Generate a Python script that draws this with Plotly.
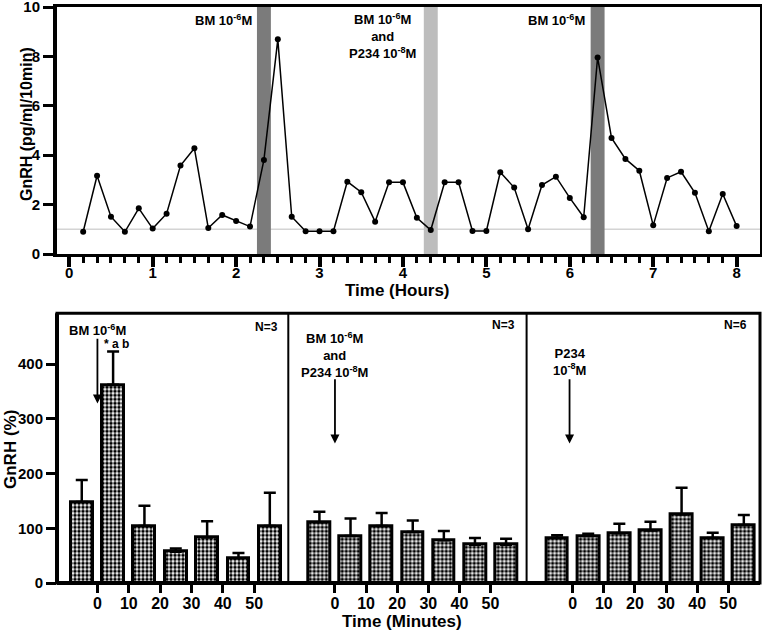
import plotly.graph_objects as go

# ---------------- data ----------------
# Top panel: GnRH secretion every 10 minutes
sample_minutes = [10, 20, 30, 40, 50, 60, 70, 80, 90, 100, 110, 120,
                  130, 140, 150, 160, 170, 180, 190, 200, 210, 220, 230, 240,
                  250, 260, 270, 280, 290, 300, 310, 320, 330, 340, 350, 360,
                  370, 380, 390, 400, 410, 420, 430, 440, 450, 460, 470, 480]
gnrh_values = [0.90, 3.17, 1.51, 0.90, 1.85, 1.03, 1.63, 3.58, 4.28, 1.05, 1.58, 1.34,
               1.11, 3.81, 8.69, 1.51, 0.92, 0.92, 0.92, 2.93, 2.50, 1.31, 2.90, 2.90,
               1.47, 0.97, 2.90, 2.90, 0.93, 0.93, 3.31, 2.69, 1.00, 2.79, 3.13, 2.27,
               1.49, 7.96, 4.70, 3.85, 3.37, 1.16, 3.08, 3.33, 2.48, 0.92, 2.43, 1.13]
hours = [m / 60 for m in sample_minutes]
hour_ticks = [0, 1, 2, 3, 4, 5, 6, 7, 8]
baseline_value = 1.0
# treatment windows (hours)
bm_windows = [(2.25, 2.417), (6.25, 6.417)]
combo_window = (4.25, 4.417)

# Bottom panels: GnRH (%) per 10-min fraction
bar_minutes = [-5, 5, 15, 25, 35, 45, 55]
bm_mean = [148, 362, 104, 57, 83, 45, 104]
bm_err_top = [188, 423, 141, 63, 113, 55, 165]
combo_mean = [111, 86, 104, 93, 78, 70, 70]
combo_err_top = [130, 118, 128, 114, 95, 82, 81]
p234_mean = [82, 86, 91, 96, 125, 82, 106]
p234_err_top = [87, 90, 108, 112, 174, 92, 124]
minute_ticks = [0, 10, 20, 30, 40, 50]
pct_ticks = [0, 100, 200, 300, 400]

# ---------------- layout helpers ----------------
W, H = 762, 630
ML, MR, MT, MB = 57, 2, 7, 47
PW, PH = W - ML - MR, H - MT - MB


def px(x):
    return (x - ML) / PW


def py(y):
    return (H - MB - y) / PH


FONT = "Liberation Sans, Arial, sans-serif"

fig = go.Figure()

fig.add_trace(go.Scatter(
    x=hours, y=gnrh_values, mode="lines+markers",
    line=dict(color="black", width=1.5),
    marker=dict(color="black", size=6),
    xaxis="x", yaxis="y", showlegend=False))

bar_style = dict(
    marker=dict(color="white", line=dict(color="black", width=3),
                pattern=dict(shape=".", fgcolor="black", bgcolor="white",
                             size=4, solidity=0.6)),
    width=7, showlegend=False)


def err(mean, top):
    return dict(type="data", symmetric=False,
                array=[t - m for m, t in zip(mean, top)],
                arrayminus=[0] * len(mean),
                color="black", thickness=2.5, width=6)


fig.add_trace(go.Bar(x=bar_minutes, y=bm_mean, error_y=err(bm_mean, bm_err_top),
                     xaxis="x2", yaxis="y2", **bar_style))
fig.add_trace(go.Bar(x=bar_minutes, y=combo_mean, error_y=err(combo_mean, combo_err_top),
                     xaxis="x3", yaxis="y3", **bar_style))
fig.add_trace(go.Bar(x=bar_minutes, y=p234_mean, error_y=err(p234_mean, p234_err_top),
                     xaxis="x4", yaxis="y4", **bar_style))

top_y0 = py(254)
bot_y1 = py(313.3)
d1, d2 = px(288.3), px(526.6)

tickfont = dict(family=FONT, color="black", size=15, weight="bold")
btickfont = dict(family=FONT, color="black", size=16, weight="bold")

common = dict(automargin=False, showgrid=False, zeroline=False, ticklabeloverflow="allow")

fig.update_layout(
    template="none",
    width=W, height=H,
    margin=dict(l=ML, r=MR, t=MT, b=MB, pad=0),
    paper_bgcolor="white", plot_bgcolor="white",
    font=dict(family=FONT, color="black"),
    showlegend=False, bargap=0,
    xaxis=dict(domain=[0, 1], anchor="y", range=[-0.147, 8.28],
               tickvals=hour_ticks, ticks="outside", ticklen=10, tickwidth=4,
               tickcolor="black", tickfont=tickfont, ticklabelstandoff=-7,
               showline=True, linewidth=3, linecolor="black", mirror=True,
               minor=dict(tickvals=[0] + hours, ticks="outside", ticklen=6,
                          tickwidth=3, tickcolor="black", showgrid=False), **common),
    yaxis=dict(domain=[top_y0, 1], anchor="x", range=[0, 10],
               tickvals=[0, 2, 4, 6, 8, 10], ticks="outside", ticklen=10, tickwidth=3,
               tickcolor="black", tickfont=tickfont,
               showline=True, linewidth=4, linecolor="black", mirror=True, **common),
    xaxis2=dict(domain=[0, d1], anchor="y2", range=[-12.9, 60.9],
                tickvals=minute_ticks, ticks="outside", ticklen=9, tickwidth=3,
                tickcolor="black", tickfont=btickfont, ticklabelstandoff=-3,
                showline=False, **common),
    xaxis3=dict(domain=[d1, d2], anchor="y3", range=[-15, 61.6],
                tickvals=minute_ticks, ticks="outside", ticklen=9, tickwidth=3,
                tickcolor="black", tickfont=btickfont, ticklabelstandoff=-3,
                showline=False, **common),
    xaxis4=dict(domain=[d2, 1], anchor="y4", range=[-14.8, 60.2],
                tickvals=minute_ticks, ticks="outside", ticklen=9, tickwidth=3,
                tickcolor="black", tickfont=btickfont, ticklabelstandoff=-3,
                showline=False, **common),
    yaxis2=dict(domain=[0, bot_y1], anchor="x2", range=[0, 492.6],
                tickvals=pct_ticks, ticks="outside", ticklen=10, tickwidth=3,
                tickcolor="black", tickfont=tickfont, showline=False, **common),
    yaxis3=dict(domain=[0, bot_y1], anchor="x3", range=[0, 492.6], visible=False, **common),
    yaxis4=dict(domain=[0, bot_y1], anchor="x4", range=[0, 492.6], visible=False, **common),
)

shapes = []
for (a, b) in bm_windows:
    shapes.append(dict(type="rect", xref="x", yref="y", x0=a, x1=b, y0=0, y1=10,
                       fillcolor="#7b7b7b", line=dict(width=0), layer="below"))
shapes.append(dict(type="rect", xref="x", yref="y", x0=combo_window[0], x1=combo_window[1],
                   y0=0, y1=10, fillcolor="#bdbdbd", line=dict(width=0), layer="below"))
shapes.append(dict(type="line", xref="paper", yref="y", x0=0, x1=1,
                   y0=baseline_value, y1=baseline_value,
                   line=dict(color="#d4d4d4", width=1.5), layer="below"))
shapes.append(dict(type="rect", xref="paper", yref="paper", x0=0, x1=1, y0=0, y1=bot_y1,
                   line=dict(color="black", width=3)))
shapes.append(dict(type="line", xref="paper", yref="paper", x0=0, x1=0, y0=0, y1=bot_y1,
                   line=dict(color="black", width=4)))
shapes.append(dict(type="line", xref="paper", yref="paper", x0=0, x1=1, y0=0, y1=0,
                   line=dict(color="black", width=4)))
for d in (d1, d2):
    shapes.append(dict(type="line", xref="paper", yref="paper", x0=d, x1=d, y0=0, y1=bot_y1,
                       line=dict(color="black", width=2)))
fig.update_layout(shapes=shapes)

ann_font = dict(family=FONT, color="black", size=13, weight="bold")
small_font = dict(family=FONT, color="black", size=12, weight="bold")
title_font = dict(family=FONT, color="black", size=17, weight="bold")


def ann(**kw):
    base = dict(showarrow=False, xanchor="center", yanchor="middle")
    base.update(kw)
    return base


anns = [
    ann(xref="paper", yref="paper", x=px(26), y=py(124), text="GnRH (pg/ml/10min)",
        textangle=-90, font=dict(family=FONT, color="black", size=16, weight="bold")),
    ann(xref="paper", yref="paper", x=px(397), y=py(290), text="Time (Hours)", font=title_font),
    ann(xref="paper", yref="paper", x=px(10), y=py(450), text="GnRH (%)",
        textangle=-90, font=title_font),
    ann(xref="paper", yref="paper", x=px(402), y=py(621), text="Time (Minutes)", font=title_font),
    ann(xref="x", yref="y", x=2.22, y=9.47, xanchor="right", text="BM 10<sup>-6</sup>M", font=ann_font),
    ann(xref="x", yref="y", x=3.76, y=8.83,
        text="BM 10<sup>-6</sup>M<br>and<br>P234 10<sup>-8</sup>M", font=ann_font),
    ann(xref="x", yref="y", x=6.21, y=9.47, xanchor="right", text="BM 10<sup>-6</sup>M", font=ann_font),
    ann(xref="x2", yref="y2", x=0, y=462, text="BM 10<sup>-6</sup>M", font=ann_font),
    dict(xref="x2", yref="y2", x=0, y=328, ax=0, ay=449, axref="x2", ayref="y2", text="",
         showarrow=True, arrowhead=2, arrowsize=1, arrowwidth=1.8, arrowcolor="black"),
    ann(xref="x2", yref="y2", x=6, y=436, text="* a b", font=small_font),
    ann(xref="x2", yref="y2", x=58.3, y=468, xanchor="right", text="N=3", font=small_font),
    ann(xref="x3", yref="y3", x=0, y=417,
        text="BM 10<sup>-6</sup>M<br>and<br>P234 10<sup>-8</sup>M", font=ann_font),
    dict(xref="x3", yref="y3", x=0, y=255, ax=0, ay=375, axref="x3", ayref="y3", text="",
         showarrow=True, arrowhead=2, arrowsize=1, arrowwidth=1.8, arrowcolor="black"),
    ann(xref="x3", yref="y3", x=58.4, y=471, xanchor="right", text="N=3", font=small_font),
    ann(xref="x4", yref="y4", x=-1, y=404, text="P234<br>10<sup>-8</sup>M", font=ann_font),
    dict(xref="x4", yref="y4", x=-1, y=255, ax=-1, ay=375, axref="x4", ayref="y4", text="",
         showarrow=True, arrowhead=2, arrowsize=1, arrowwidth=1.8, arrowcolor="black"),
    ann(xref="x4", yref="y4", x=56.7, y=471, xanchor="right", text="N=6", font=small_font),
]
fig.update_layout(annotations=anns)

# remove the browser's default 8px page margin so the figure sits at the window's corner
fig.write_html("out.html", config={"displayModeBar": False},
               post_script="document.body.style.margin='0px';")
